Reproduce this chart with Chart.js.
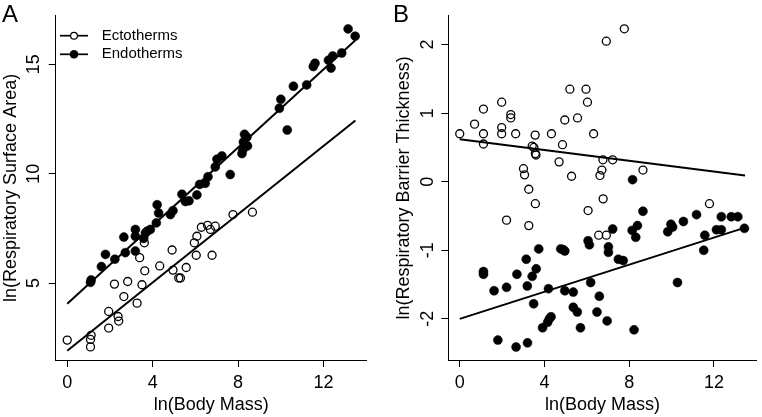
<!DOCTYPE html>
<html><head><meta charset="utf-8">
<script src="https://cdn.jsdelivr.net/npm/chart.js@4.4.1/dist/chart.umd.min.js"></script>
<style>
html,body{margin:0;padding:0;background:#fff;width:762px;height:417px;overflow:hidden}
canvas{position:absolute;top:0}
#a{left:0}#b{left:381px}
</style></head><body>
<canvas id="a" width="381" height="417"></canvas>
<canvas id="b" width="381" height="417"></canvas>
<script>
// ---------- data ----------
const xTicks = [0, 4, 8, 12];
const yTicksA = [5, 10, 15];
const yTicksB = [-2, -1, 0, 1, 2];
const seriesNames = ['Ectotherms', 'Endotherms'];

// Panel A: ln(Respiratory Surface Area) vs ln(Body Mass)
const ectoA_mass = [0,1.12,1.09,1.09,1.94,1.94,2.38,2.41,2.21,2.65,2.83,3.27,3.50,3.63,3.39,3.61,4.33,4.91,4.95,5.22,5.30,5.57,5.95,6.07,6.04,6.28,6.57,6.70,6.93,6.78,7.76,8.67];
const ectoA_area = [2.39,2.61,2.42,2.08,3.70,2.94,3.47,3.26,4.95,4.38,5.07,4.08,4.92,5.56,6.16,6.84,5.78,6.51,5.59,5.23,5.23,5.71,6.84,7.14,6.27,7.55,7.64,7.45,7.60,6.27,8.13,8.24];
const endoA_mass = [1.09,1.12,1.60,1.79,2.23,2.72,2.65,3.19,3.19,3.19,3.58,3.66,3.74,3.89,4.17,4.21,4.28,4.83,4.95,5.37,5.53,5.70,6.07,6.20,6.46,6.59,6.93,7.01,7.24,7.63,8.18,8.22,8.25,8.30,8.41,8.44,9.93,10.00,10.30,10.59,11.21,11.52,11.60,12.23,12.35,12.43,12.85,13.15,13.48];
const endoA_area = [5.03,5.14,5.75,6.31,6.09,6.39,7.10,6.46,7.45,7.14,7.04,7.29,7.37,7.45,7.75,8.58,8.20,8.13,8.31,9.06,8.73,8.76,9.03,9.51,9.56,9.86,10.31,10.66,10.81,9.96,10.92,11.09,11.45,11.80,11.67,11.27,12.99,13.40,12.00,14.00,14.06,14.90,15.05,15.19,14.83,15.38,15.52,16.62,16.29];
const fitA_mass = [0, 13.49];
const fitA_ecto = [1.90, 12.43];
const fitA_endo = [4.05, 16.10];

// Panel B: ln(Respiratory Barrier Thickness) vs ln(Body Mass)
const ectoB_mass = [0,0.70,1.12,1.12,1.12,1.98,1.98,1.98,2.41,2.41,2.64,3.01,3.06,3.26,3.57,3.42,3.50,3.57,3.60,3.56,4.33,4.69,4.85,4.96,5.28,5.20,5.56,5.96,6.03,6.32,6.06,6.62,6.71,6.76,6.77,6.92,7.22,7.77,8.65,11.79,2.21,3.26,6.56,6.92];
const ectoB_thick = [0.70,0.84,1.06,0.70,0.55,1.16,0.79,0.70,0.98,0.93,0.70,0.19,0.10,-0.11,-0.32,0.52,0.50,0.41,0.39,0.68,0.70,0.29,0.54,0.90,0.08,1.35,0.93,1.35,1.16,0.70,-0.42,0.09,0.17,0.32,-0.25,2.05,0.32,2.23,0.17,-0.32,-0.56,-0.64,-0.78,-0.78];
const endoB_mass = [1.12,1.12,1.62,1.80,2.21,2.66,2.70,3.14,3.19,3.20,3.42,3.61,3.73,3.49,4.19,3.91,4.15,4.23,4.31,4.77,4.88,4.96,4.96,5.36,5.36,5.55,5.70,6.06,6.12,6.18,6.48,6.59,6.96,7.22,7.02,7.02,7.49,7.72,8.16,8.14,8.31,8.39,8.65,8.23,9.82,9.97,10.05,10.28,10.56,11.18,11.57,11.52,12.12,12.35,12.35,12.82,13.13,13.44];
const endoB_thick = [-1.31,-1.35,-1.59,-2.31,-1.54,-2.41,-1.35,-1.13,-1.52,-2.35,-1.38,-1.27,-0.98,-1.78,-1.56,-2.13,-2.05,-2.00,-1.97,-0.98,-0.99,-1.01,-1.59,-1.61,-1.83,-1.90,-2.13,-0.86,-0.92,-1.47,-1.90,-1.67,-2.03,-0.69,-0.95,-1.03,-1.13,-1.15,0.03,-0.71,-0.81,-0.64,-0.43,-2.16,-0.73,-0.62,-0.66,-1.47,-0.58,-0.48,-0.78,-1.00,-0.70,-0.70,-0.51,-0.51,-0.51,-0.68];
const fitB_mass = [0, 13.47];
const fitB_ecto = [0.62, 0.09];
const fitB_endo = [-2.00, -0.67];

// ---------- helpers ----------
const FONT = "'Liberation Sans', Arial, Helvetica, sans-serif";
Chart.defaults.font.family = FONT;
Chart.defaults.color = '#000';
const pts = (xs, ys) => xs.map((x, i) => ({x: x, y: ys[i]}));

function openSet(data){ return {data, showLine:false, pointRadius:4, pointBorderWidth:1.3, pointBorderColor:'#000', pointBackgroundColor:'rgba(0,0,0,0)', order:2}; }
function fillSet(data){ return {data, showLine:false, pointRadius:4.5, pointBorderWidth:0.5, pointBorderColor:'#000', pointBackgroundColor:'#000', order:2}; }
function lineSet(data){ return {data, showLine:true, borderColor:'#000', borderWidth:2, pointRadius:0, fill:false, order:1}; }

const gridOpt = {drawOnChartArea:false, drawTicks:true, tickLength:7, color:'#000', lineWidth:1};
const borderOpt = {display:true, color:'#000', width:1};

function xAxis(){
  return {type:'linear', position:'bottom', min:-0.54, max:14.02,
    afterBuildTicks: s => { s.ticks = xTicks.map(v => ({value:v})); },
    afterFit: s => { s.height = 57; },
    grid: gridOpt, border: borderOpt,
    ticks:{font:{size:18}, padding:5, maxRotation:0, autoSkip:false, color:'#000', callback: v => String(v)},
    title:{display:true, text:'ln(Body Mass)', font:{size:18}, color:'#000', padding:{top:0,bottom:1}}
  };
}
function yAxis(min, max, ticks, title, width, tpad){
  return {type:'linear', position:'left', min, max,
    afterBuildTicks: s => { s.ticks = ticks.map(v => ({value:v})); },
    afterFit: s => { s.width = width; },
    grid: gridOpt, border: borderOpt,
    ticks:{font:{size:18}, padding:5, minRotation:90, maxRotation:90, crossAlign:'center', autoSkip:false, color:'#000', callback: v => String(v)},
    title:{display:true, text:title, font:{size:18}, color:'#000', padding:{top:tpad,bottom:0}}
  };
}
function letterPlugin(letter, x){
  return {id:'letter'+letter, afterDraw(chart){
    const c = chart.ctx; c.save();
    c.fillStyle = '#000'; c.font = '24px ' + FONT; c.textBaseline = 'alphabetic'; c.textAlign = 'left';
    c.fillText(letter, x, 22); c.restore();
  }};
}
const legendPlugin = {id:'legendA', afterDraw(chart){
  const c = chart.ctx; c.save();
  const ys = [35.7, 54.3];
  c.strokeStyle = '#000'; c.fillStyle = '#000'; c.lineWidth = 1.7;
  ys.forEach((y, i) => {
    c.beginPath(); c.moveTo(60, y); c.lineTo(88, y); c.stroke();
    c.beginPath(); c.arc(74, y, i === 0 ? 3.4 : 4.3, 0, Math.PI*2);
    if (i === 0) { c.fillStyle = '#fff'; c.fill(); c.lineWidth = 1.2; c.stroke(); c.lineWidth = 1.7; c.fillStyle = '#000'; }
    else c.fill();
    c.font = '15px ' + FONT; c.textBaseline = 'middle'; c.textAlign = 'left';
    c.fillText(seriesNames[i], 101.7, y);
  });
  c.restore();
}};

const common = {responsive:false, animation:false, events:[],
  plugins:{legend:{display:false}, tooltip:{enabled:false}}};

new Chart(document.getElementById('a'), {
  type:'scatter',
  data:{datasets:[
    openSet(pts(ectoA_mass, ectoA_area)),
    fillSet(pts(endoA_mass, endoA_area)),
    lineSet(pts(fitA_mass, fitA_ecto)),
    lineSet(pts(fitA_mass, fitA_endo))
  ]},
  options:Object.assign({}, common, {
    layout:{padding:{left:0, top:13, right:14.3, bottom:0}},
    scales:{x:xAxis(), y:yAxis(1.48, 17.22, yTicksA, 'ln(Respiratory Surface Area)', 55.7, 0)}
  }),
  plugins:[letterPlugin('A', 2), legendPlugin]
});

new Chart(document.getElementById('b'), {
  type:'scatter',
  data:{datasets:[
    openSet(pts(ectoB_mass, ectoB_thick)),
    fillSet(pts(endoB_mass, endoB_thick)),
    lineSet(pts(fitB_mass, fitB_ecto)),
    lineSet(pts(fitB_mass, fitB_endo))
  ]},
  options:Object.assign({}, common, {
    layout:{padding:{left:0, top:13.3, right:2, bottom:0}},
    scales:{x:xAxis(), y:yAxis(-2.6, 2.42, yTicksB, 'ln(Respiratory Barrier Thickness)', 67.3, 12)}
  }),
  plugins:[letterPlugin('B', 12)]
});
</script>
</body></html>
